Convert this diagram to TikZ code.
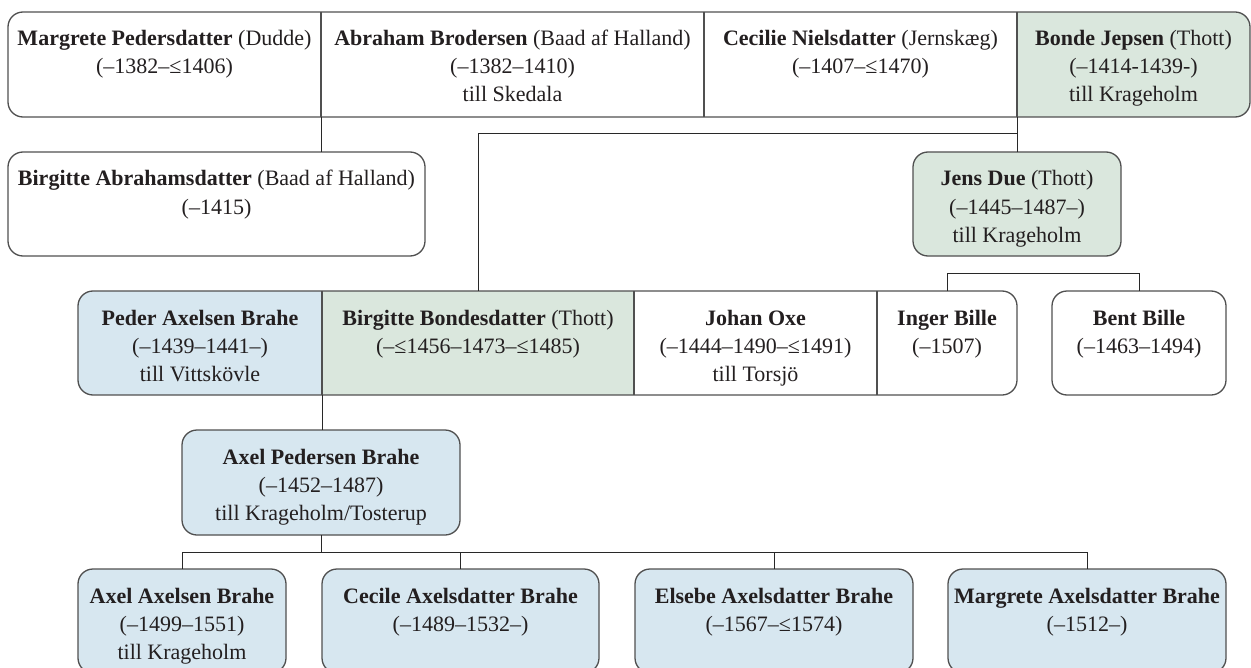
\documentclass[tikz,border=0pt]{standalone}
\usepackage{fontspec}
\setmainfont{Liberation Serif}
\usetikzlibrary{backgrounds}
\definecolor{gfill}{RGB}{218,231,221}
\definecolor{bfill}{RGB}{215,231,240}
\definecolor{bline}{RGB}{80,80,80}
\definecolor{cline}{RGB}{40,40,40}
\definecolor{tcol}{RGB}{35,31,32}
\tikzset{
  pbox/.style={inner sep=0pt, outer sep=0pt, text=tcol,
    font=\fontsize{11pt}{14pt}\selectfont},
  rbox/.style={pbox, draw=bline, line width=0.65pt, rounded corners=7.5pt},
  boxline/.style={draw=bline, line width=0.65pt},
  conn/.style={draw=cline, line width=0.5pt}
}
% #1 options, #2 name, #3 x1, #4 y1, #5 x2, #6 y2 (pixels), #7 text
\newcommand\persona[7][]{%
  \node[pbox,#1] (#2) at ({(#3+#5)/2},{(#4+#6)/2})
  {\parbox[c][\dimexpr(#6pt-#4pt)/2\relax][t]{\dimexpr(#5pt-#3pt)/2\relax}{\centering\rule{0pt}{17pt}#7\par}};}
\begin{document}
\begin{tikzpicture}[x=0.5pt,y=-0.5pt]
\useasboundingbox (0,0) rectangle (1251,668);
\clip (0,0) rectangle (1251,668);

% row 1
\persona[]{m1}{8}{12}{321}{117}{\textbf{Margrete Pedersdatter} (Dudde)\\(–1382–≤1406)}
\persona[]{a1}{321}{12}{704}{117}{\textbf{Abraham Brodersen} (Baad af Halland)\\(–1382–1410)\\till Skedala}
\persona[]{c1}{704}{12}{1017}{117}{\textbf{Cecilie Nielsdatter} (Jernskæg)\\(–1407–≤1470)}
\persona[]{b1}{1017}{12}{1250}{117}{\textbf{Bonde Jepsen} (Thott)\\(–1414-1439-)\\till Krageholm}

% row 2
\persona[rbox, fill=white]{ba}{8}{152}{425}{256}{\textbf{Birgitte Abrahamsdatter} (Baad af Halland)\\(–1415)}
\persona[rbox, fill=gfill]{jd}{913}{152}{1121}{256}{\textbf{Jens Due} (Thott)\\(–1445–1487–)\\till Krageholm}

% row 3
\persona[]{pa}{78}{291}{322}{395}{\textbf{Peder Axelsen Brahe}\\(–1439–1441–)\\till Vittskövle}
\persona[]{bb}{322}{291}{634}{395}{\textbf{Birgitte Bondesdatter} (Thott)\\(–≤1456–1473–≤1485)}
\persona[]{jo}{634}{291}{877}{395}{\textbf{Johan Oxe}\\(–1444–1490–≤1491)\\till Torsjö}
\persona[]{ib}{877}{291}{1017}{395}{\textbf{Inger Bille}\\(–1507)}
\persona[rbox, fill=white]{bt}{1052}{291}{1226}{395}{\textbf{Bent Bille}\\(–1463–1494)}

% row 4
\persona[rbox, fill=bfill]{ap}{182}{430}{460}{535}{\textbf{Axel Pedersen Brahe}\\(–1452–1487)\\till Krageholm/Tosterup}

% row 5
\persona[rbox, fill=bfill]{aa}{78}{569}{286}{673}{\textbf{Axel Axelsen Brahe}\\(–1499–1551)\\till Krageholm}
\persona[rbox, fill=bfill]{ca}{322}{569}{599}{673}{\textbf{Cecile Axelsdatter Brahe}\\(–1489–1532–)}
\persona[rbox, fill=bfill]{ea}{635}{569}{913}{673}{\textbf{Elsebe Axelsdatter Brahe}\\(–1567–≤1574)}
\persona[rbox, fill=bfill]{ma}{948}{569}{1226}{673}{\textbf{Margrete Axelsdatter Brahe}\\(–1512–)}

% fills of the joined rows
\begin{scope}[on background layer]
  \fill[white] (0,0) rectangle (1251,668);
  \begin{scope}
    \clip[rounded corners=7.5pt] (m1.north west) rectangle (b1.south east);
    \fill[gfill] (b1.north west) rectangle (b1.south east);
  \end{scope}
  \begin{scope}
    \clip[rounded corners=7.5pt] (pa.north west) rectangle (ib.south east);
    \fill[bfill] (pa.north west) rectangle (pa.south east);
    \fill[gfill] (bb.north west) rectangle (bb.south east);
  \end{scope}
\end{scope}

% outlines of the joined rows
\draw[boxline, rounded corners=7.5pt] (m1.north west) rectangle (b1.south east);
\draw[boxline] (a1.north west) -- (a1.south west)
               (c1.north west) -- (c1.south west)
               (b1.north west) -- (b1.south west);
\draw[boxline, rounded corners=7.5pt] (pa.north west) rectangle (ib.south east);
\draw[boxline] (bb.north west) -- (bb.south west)
               (jo.north west) -- (jo.south west)
               (ib.north west) -- (ib.south west);

% connectors
\coordinate (k1) at (1017,134);
\coordinate (k2) at (1017,273);
\coordinate (k3) at (321,552);
\draw[conn] (m1.south east) -- (m1.south east |- ba.north);
\draw[conn] (c1.south east) -- (c1.south east |- jd.north);
\draw[conn] (k1) -| (bb.north);
\draw[conn] (ib.north) -- (ib.north |- k2) -- (bt.north |- k2) -- (bt.north);
\draw[conn] (pa.south east) -- (pa.south east |- ap.north);
\draw[conn] (ap.south) -- (k3);
\draw[conn] (aa.north) -- (aa.north |- k3) -- (ma.north |- k3) -- (ma.north);
\draw[conn] (ca.north) -- (ca.north |- k3);
\draw[conn] (ea.north) -- (ea.north |- k3);
\end{tikzpicture}
\end{document}
